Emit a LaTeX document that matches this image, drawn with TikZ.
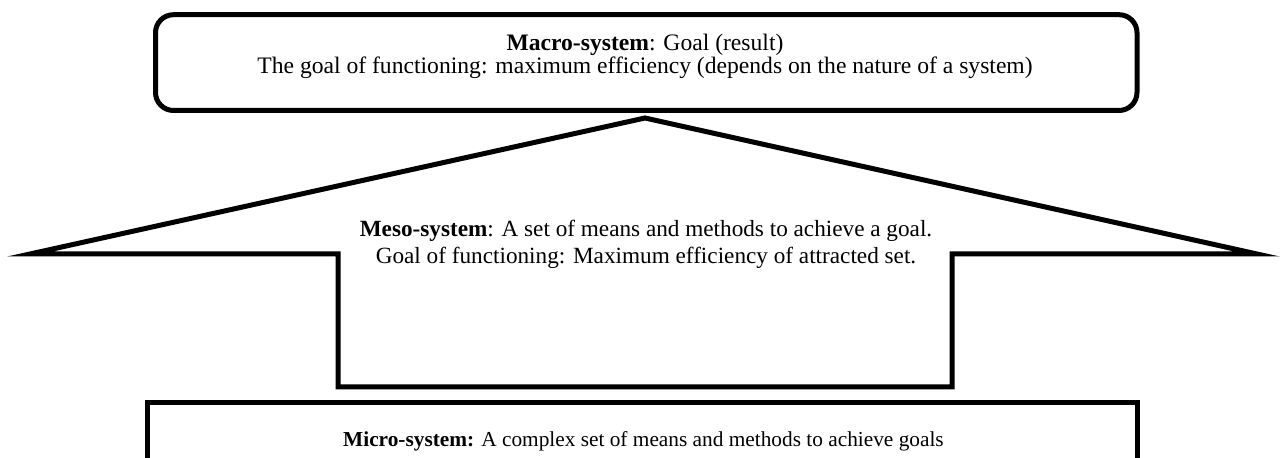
\documentclass[tikz,border=0pt]{standalone}
\usepackage{fontspec}
\setmainfont{Liberation Serif}
\begin{document}
\begin{tikzpicture}[x=1bp,y=-1bp,
  shapeline/.style={line width=5bp, line join=miter, miter limit=12},
  macrotxt/.style={align=center, inner sep=0pt, font=\fontsize{23.7}{23.5}\selectfont},
  mesotxt/.style={align=center, inner sep=0pt, font=\fontsize{23.3}{28}\selectfont},
  microtxt/.style={inner sep=0pt, font=\fontsize{21.4}{24}\selectfont}]
\useasboundingbox (0,0) rectangle (1287,458);
\begin{scope}
\clip (0,0) rectangle (1287,458);
\draw[shapeline, rounded corners=18bp] (155.5,14.7) rectangle (1137,110.5);
\draw[shapeline] (645,118) -- (30,254) -- (338,254) -- (338,387) -- (952,387) -- (952,254) -- (1257,254) -- cycle;
\draw[line width=5bp, line join=miter] (147.5,475) -- (147.5,402.5) -- (1137.5,402.5) -- (1137.5,475);
\end{scope}
\node[macrotxt, anchor=base] (macro) at (645,74) {\textbf{Macro-system}: Goal (result)\\The goal of functioning: maximum efficiency (depends on the nature of a system)};
\node[mesotxt, anchor=base] (meso) at (646,264) {\textbf{Meso-system}: A set of means and methods to achieve a goal.\\Goal of functioning: Maximum efficiency of attracted set.};
\node[microtxt, anchor=base west] (micro) at (343,447) {\textbf{Micro-system:} A complex set of means and methods to achieve goals};
\end{tikzpicture}
\end{document}
